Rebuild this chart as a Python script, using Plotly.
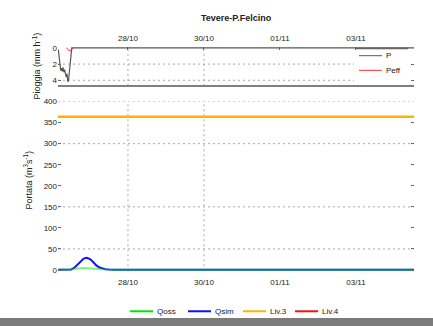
import plotly.graph_objects as go

# ---------------- data ----------------
# Rain P (mm/h), 30-min steps at the start of the period, zero afterwards
rain_time = ["2013-10-26 04:00", "2013-10-26 04:30", "2013-10-26 05:00", "2013-10-26 05:30",
             "2013-10-26 06:00", "2013-10-26 06:30", "2013-10-26 07:00", "2013-10-26 07:30",
             "2013-10-26 08:00", "2013-10-26 08:30", "2013-10-26 09:00", "2013-10-26 09:30",
             "2013-10-26 10:00", "2013-10-26 10:30", "2013-10-26 11:00", "2013-10-26 11:30",
             "2013-10-26 12:00", "2013-10-26 12:30", "2013-11-04 13:00"]
P = [0.2, 1.0, 2.2, 2.8, 2.5, 2.9, 2.4, 3.0, 2.7, 3.3, 3.6, 3.2, 4.2, 3.9, 3.0, 1.5, 0.6, 0.0, 0.0]

# Effective rain (mm/h), only non-zero around the end of the storm
peff_time = ["2013-10-26 09:00", "2013-10-26 09:30", "2013-10-26 10:00", "2013-10-26 10:30",
             "2013-10-26 11:00", "2013-10-26 11:30", "2013-10-26 12:00", "2013-10-26 12:30",
             "2013-10-26 13:00", "2013-10-26 13:30"]
Peff = [0.0, 0.05, 0.15, 0.3, 0.3, 0.35, 0.3, 0.2, 0.05, 0.0]

# Discharge (m3/s)
q_time = ["2013-10-26 04:00", "2013-10-26 08:00", "2013-10-26 12:00", "2013-10-26 14:00",
          "2013-10-26 16:00", "2013-10-26 18:00", "2013-10-26 20:00", "2013-10-26 22:00",
          "2013-10-27 00:00", "2013-10-27 02:00", "2013-10-27 04:00", "2013-10-27 06:00",
          "2013-10-27 08:00", "2013-10-27 10:00", "2013-10-27 12:00", "2013-10-27 16:00",
          "2013-11-04 13:00"]
Qsim = [0.5, 0.5, 1.0, 5.0, 12.0, 21.0, 27.0, 29.0, 26.0, 19.0, 11.0, 6.0, 3.0, 1.5, 1.0, 0.5, 0.5]
Qoss = [1.0, 1.0, 1.0, 3.0, 4.0, 4.5, 4.5, 4.0, 4.0, 3.5, 3.0, 2.5, 1.5, 1.0, 1.0, 0.8, 0.8]

lev_time = ["2013-10-26 00:00", "2013-11-05 00:00"]
Liv3 = [364, 364]
Liv4 = [520, 520]

date_ticks = ["2013-10-28", "2013-10-30", "2013-11-01", "2013-11-03"]
date_labels = ["28/10", "30/10", "01/11", "03/11"]
grid_dates = ["2013-10-28", "2013-10-30"]
rain_ticks = [0, 2, 4]
rain_grid = [2, 4]
q_ticks = [0, 50, 100, 150, 200, 250, 300, 350, 400]
q_grid = [50, 150, 300, 400]

legend_names = ["Qoss", "Qsim", "Liv.3", "Liv.4"]
legend_colors = ["#00e600", "#1010ff", "#ffb300", "#ff1010"]
rain_legend_names = ["P", "Peff"]
rain_legend_colors = ["#555555", "#ff3030"]

x_range = ["2013-10-26 03:48", "2013-11-04 12:40"]

W, H = 433, 326
FONT = "Liberation Sans"
L, R = 58, 19
pw = W - L - R


def py(px):
    return 1 - px / H


def pxx(px):
    return (px - L) / pw


fig = go.Figure()

# top panel: rain
fig.add_trace(go.Scatter(x=rain_time, y=P, mode="lines", name="P",
                         line=dict(color=rain_legend_colors[0], width=1.2), xaxis="x", yaxis="y"))
fig.add_trace(go.Scatter(x=peff_time, y=Peff, mode="lines", name="Peff",
                         line=dict(color=rain_legend_colors[1], width=1), xaxis="x", yaxis="y"))

# bottom panel: discharge
fig.add_trace(go.Scatter(x=q_time, y=Qsim, mode="lines", name="Qsim",
                         line=dict(color=legend_colors[1], width=2), xaxis="x2", yaxis="y2"))
fig.add_trace(go.Scatter(x=q_time, y=Qoss, mode="lines", name="Qoss",
                         line=dict(color="rgba(0,225,0,0.5)", width=2), xaxis="x2", yaxis="y2"))
fig.add_trace(go.Scatter(x=lev_time, y=Liv3, mode="lines", name="Liv.3",
                         line=dict(color=legend_colors[2], width=2.4), xaxis="x2", yaxis="y2"))
fig.add_trace(go.Scatter(x=lev_time, y=Liv4, mode="lines", name="Liv.4",
                         line=dict(color=legend_colors[3], width=2), xaxis="x2", yaxis="y2"))

shapes = []
annotations = []
grid_line = dict(color="#a8a8a8", width=1, dash="2px,3px")
for d in grid_dates:
    shapes.append(dict(type="line", xref="x", yref="y domain", x0=d, x1=d, y0=0, y1=1,
                       line=grid_line, layer="below"))
    shapes.append(dict(type="line", xref="x2", yref="y2 domain", x0=d, x1=d, y0=0, y1=1,
                       line=grid_line, layer="below"))
for v in rain_grid:
    # gridlines of the rain panel stop where the legend box starts
    shapes.append(dict(type="line", xref="x domain", yref="y", x0=0, x1=pxx(354), y0=v, y1=v,
                       line=grid_line, layer="below"))
for v in q_grid:
    shapes.append(dict(type="line", xref="x2 domain", yref="y2", x0=0, x1=1, y0=v, y1=v,
                       line=grid_line, layer="below"))
# bottom border of rain panel
shapes.append(dict(type="line", xref="x domain", yref="y domain", x0=0, x1=1, y0=0, y1=0,
                   line=dict(color="#555555", width=1.5)))
# legend box top edge of rain panel
shapes.append(dict(type="line", xref="paper", yref="paper", x0=pxx(355), x1=pxx(408),
                   y0=py(45.5), y1=py(45.5), line=dict(color="#666666", width=1.5)))
# grey strip at the very bottom of the picture
shapes.append(dict(type="rect", xref="paper", yref="paper", x0=-0.3, x1=1.2, y0=-0.02, y1=4 / H,
                   line=dict(width=0), fillcolor="#7b7b7b"))

txt_font = dict(family=FONT, size=8, color="#222222")

# bottom legend (MATLAB-like compact layout)
leg_x = [130, 188, 243, 295]
for name, col, x0 in zip(legend_names, legend_colors, leg_x):
    shapes.append(dict(type="line", xref="paper", yref="paper", x0=pxx(x0), x1=pxx(x0 + 23),
                       y0=py(315), y1=py(315), line=dict(color=col, width=2)))
    annotations.append(dict(text=name, xref="paper", yref="paper", x=pxx(x0 + 25), y=py(315),
                            xanchor="left", yanchor="middle", showarrow=False, font=txt_font))

# rain legend (upper right)
rleg_y = [53, 68]
for name, col, y0 in zip(rain_legend_names, rain_legend_colors, rleg_y):
    shapes.append(dict(type="line", xref="paper", yref="paper", x0=pxx(359), x1=pxx(382),
                       y0=py(y0), y1=py(y0), line=dict(color=col, width=1)))
    annotations.append(dict(text=name, xref="paper", yref="paper", x=pxx(384), y=py(y0),
                            xanchor="left", yanchor="middle", showarrow=False, font=txt_font))

annotations += [
    dict(text="<b>Tevere-P.Felcino</b>", xref="paper", yref="paper", x=pxx(236), y=py(14),
         xanchor="center", yanchor="middle", showarrow=False,
         font=dict(family=FONT, size=9, color="#222222")),
    dict(text="Pioggia (mm h<sup>-1</sup>)", xref="paper", yref="paper", x=pxx(37), y=py(64),
         xanchor="center", yanchor="middle", textangle=-90, showarrow=False,
         font=dict(family=FONT, size=9, color="#222222")),
    dict(text="Portata (m<sup>3</sup>s<sup>-1</sup>)", xref="paper", yref="paper", x=pxx(28),
         y=py(181), xanchor="center", yanchor="middle", textangle=-90, showarrow=False,
         font=dict(family=FONT, size=9, color="#222222")),
]

fig.update_layout(
    width=W, height=H,
    margin=dict(l=L, r=R, t=0, b=0),
    paper_bgcolor="white", plot_bgcolor="white",
    font=dict(family=FONT, size=8, color="#222222"),
    showlegend=False,
    xaxis=dict(domain=[0, 1], anchor="y", side="top", range=x_range, type="date",
               tickvals=date_ticks, ticktext=date_labels, showgrid=False, zeroline=False,
               ticks="inside", ticklen=3, tickcolor="#666666", tickfont=txt_font, showline=False,
               ticklabelstandoff=3),
    yaxis=dict(domain=[py(84), py(44)], anchor="x", range=[4.7, -0.12], tickvals=rain_ticks,
               showgrid=False, zeroline=False, ticks="inside", ticklen=3, tickcolor="#666666",
               mirror="ticks", tickfont=txt_font, showline=False),
    xaxis2=dict(domain=[0, 1], anchor="y2", range=x_range, type="date",
                tickvals=date_ticks, ticktext=date_labels, showgrid=False, zeroline=False,
                ticks="", tickfont=txt_font, showline=False, ticklabelstandoff=5),
    yaxis2=dict(domain=[py(274), py(100)], anchor="x2", range=[-3, 400], tickvals=q_ticks,
                showgrid=False, zeroline=False, ticks="inside", ticklen=3, tickcolor="#666666",
                mirror="ticks", tickfont=txt_font, showline=False),
    shapes=shapes,
    annotations=annotations,
)

fig.write_html("out.html")
